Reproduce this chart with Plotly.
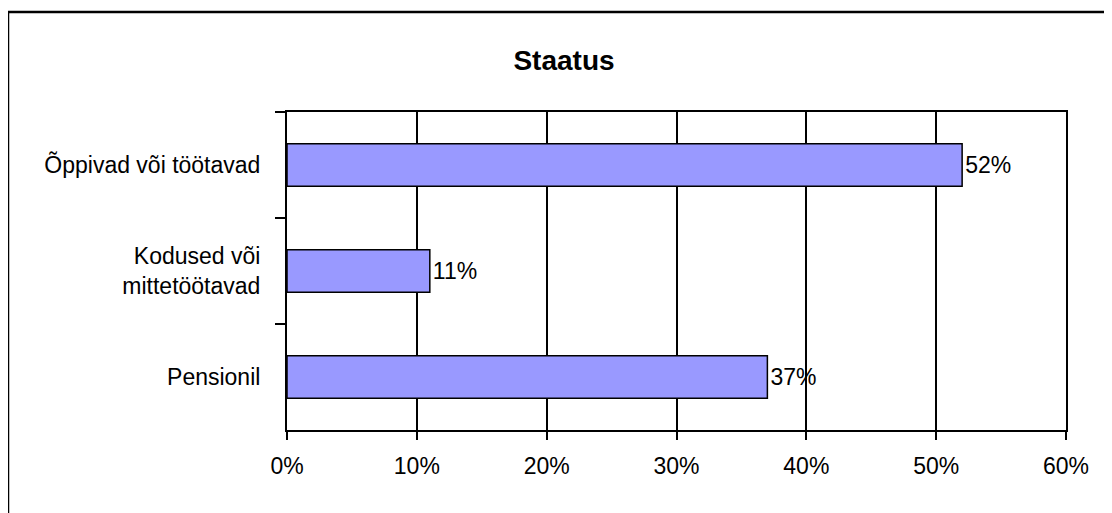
import plotly.graph_objects as go

categories = ["Õppivad või töötavad", "Kodused või<br>mittetöötavad", "Pensionil"]
shares = [0.52, 0.11, 0.37]
share_labels = ["52%", "11%", "37%"]

# the page puts the figure 8px in from the top-left corner
W, H = 1104, 505
L, R, T, B = 279, 46, 104, 83

fig = go.Figure(
    go.Bar(
        y=categories,
        x=shares,
        orientation="h",
        text=share_labels,
        textposition="outside",
        cliponaxis=False,
        marker=dict(color="#9999FF", line=dict(color="black", width=1.5)),
        textfont=dict(size=23, color="black"),
    )
)

pw = W - L - R
ph = H - T - B

fig.update_layout(
    width=W,
    height=H,
    margin=dict(l=L, r=R, t=T, b=B),
    paper_bgcolor="white",
    plot_bgcolor="white",
    font=dict(family="Liberation Sans, Arial, sans-serif", size=23, color="black"),
    bargap=0.6,
    showlegend=False,
    title=dict(
        text="<b>Staatus</b>",
        x=556 / W,
        xanchor="center",
        y=1 - 52 / H,
        yanchor="middle",
        font=dict(size=28, color="black"),
    ),
    xaxis=dict(
        range=[0, 0.6],
        dtick=0.1,
        tickformat=".0%",
        showgrid=True,
        gridcolor="black",
        gridwidth=1.5,
        showline=True,
        linecolor="black",
        linewidth=2,
        mirror=True,
        ticks="outside",
        ticklen=8,
        tickwidth=1.5,
        tickcolor="black",
        ticklabelstandoff=6,
        zeroline=False,
        fixedrange=True,
    ),
    yaxis=dict(
        autorange="reversed",
        tickson="boundaries",
        showgrid=False,
        showline=True,
        linecolor="black",
        linewidth=2,
        mirror=True,
        ticks="outside",
        ticklen=10,
        tickwidth=1.5,
        tickcolor="black",
        ticklabelstandoff=20,
        fixedrange=True,
    ),
)

# outer chart frame (cropped on the right and bottom in the original)
fig.add_shape(
    type="rect",
    xref="paper",
    yref="paper",
    x0=(0 - L) / pw,
    x1=(1120 - L) / pw,
    y0=(H - B - 520) / ph,
    y1=(H - B - 4) / ph,
    line=dict(color="black", width=2.5),
    fillcolor="rgba(0,0,0,0)",
    layer="below",
)

fig.write_html("out.html")
